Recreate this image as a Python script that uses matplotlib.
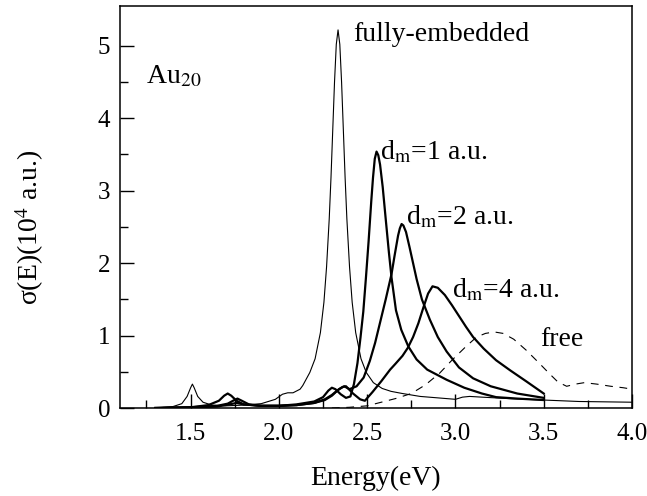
import numpy as np
import matplotlib
matplotlib.use("Agg")
import matplotlib.pyplot as plt

plt.rcParams['font.family'] = ['Liberation Serif', 'DejaVu Serif']
plt.rcParams['mathtext.fontset'] = 'stix'

# fully-embedded (thin line)
e_full = [1.30, 1.40, 1.45, 1.48, 1.50, 1.51, 1.52, 1.54, 1.57, 1.62, 1.70, 1.80, 1.90, 1.98, 2.02, 2.05,
          2.08, 2.12, 2.135, 2.175, 2.205, 2.235, 2.255, 2.27, 2.285, 2.295, 2.305, 2.315, 2.325, 2.335,
          2.345, 2.355, 2.365, 2.375, 2.385, 2.40, 2.415, 2.435, 2.465, 2.495, 2.535, 2.585, 2.635,
          2.70, 2.80, 2.90, 3.00, 3.04, 3.08, 3.15, 3.30, 3.50, 3.70, 4.00]
s_full = [0.0, 0.02, 0.06, 0.16, 0.28, 0.33, 0.28, 0.16, 0.08, 0.04, 0.03, 0.04, 0.06, 0.12, 0.19, 0.21,
          0.21, 0.26, 0.31, 0.49, 0.68, 1.04, 1.46, 1.95, 2.61, 3.18, 3.84, 4.5, 5.02, 5.22,
          5.02, 4.5, 3.84, 3.18, 2.61, 1.95, 1.46, 1.04, 0.68, 0.49, 0.35, 0.27, 0.23,
          0.20, 0.16, 0.14, 0.12, 0.15, 0.16, 0.15, 0.13, 0.11, 0.09, 0.08]

# d_m = 1 a.u.
e_d1 = [1.30, 1.50, 1.60, 1.66, 1.69, 1.71, 1.73, 1.76, 1.80, 1.90, 2.00, 2.10, 2.20, 2.25, 2.28, 2.30,
        2.32, 2.35, 2.38, 2.405, 2.425, 2.445, 2.462, 2.478, 2.493, 2.508, 2.523, 2.533, 2.543, 2.553,
        2.563, 2.573, 2.588, 2.603, 2.623, 2.638, 2.663, 2.693, 2.733, 2.78, 2.84, 2.95, 3.05, 3.15,
        3.23, 3.35, 3.50]
s_d1 = [0.0, 0.01, 0.04, 0.10, 0.17, 0.20, 0.17, 0.10, 0.05, 0.03, 0.03, 0.05, 0.09, 0.15, 0.24, 0.28,
        0.26, 0.19, 0.14, 0.16, 0.33, 0.62, 0.97, 1.33, 1.8, 2.3, 2.85, 3.18, 3.44, 3.54,
        3.49, 3.36, 3.05, 2.66, 2.15, 1.8, 1.35, 1.08, 0.85, 0.67, 0.53, 0.39, 0.28, 0.2,
        0.15, 0.13, 0.11]

# d_m = 2 a.u.
e_d2 = [1.30, 1.50, 1.65, 1.71, 1.74, 1.765, 1.79, 1.83, 1.90, 2.00, 2.10, 2.20, 2.26, 2.30, 2.34, 2.37,
        2.40, 2.44, 2.48, 2.515, 2.545, 2.575, 2.605, 2.638, 2.655, 2.675, 2.685, 2.695, 2.705, 2.72,
        2.74, 2.76, 2.78, 2.81, 2.855, 2.90, 2.95, 3.02, 3.10, 3.20, 3.35, 3.50]
s_d2 = [0.0, 0.01, 0.03, 0.06, 0.10, 0.13, 0.10, 0.05, 0.03, 0.03, 0.04, 0.07, 0.11, 0.17, 0.26, 0.30,
        0.26, 0.30, 0.42, 0.65, 0.9, 1.2, 1.5, 1.85, 2.1, 2.38, 2.48, 2.54, 2.52, 2.43,
        2.22, 2.0, 1.78, 1.5, 1.22, 0.98, 0.78, 0.56, 0.41, 0.30, 0.20, 0.14]

# d_m = 4 a.u.
e_d4 = [1.30, 1.50, 1.65, 1.72, 1.76, 1.80, 1.90, 2.00, 2.10, 2.20, 2.26, 2.30, 2.33, 2.36, 2.38, 2.42,
        2.46, 2.487, 2.53, 2.58, 2.63, 2.66, 2.70, 2.73, 2.76, 2.79, 2.82, 2.845, 2.87, 2.90, 2.94,
        2.98, 3.02, 3.06, 3.10, 3.16, 3.23, 3.31, 3.40, 3.50]
s_d4 = [0.0, 0.01, 0.02, 0.05, 0.07, 0.05, 0.03, 0.03, 0.04, 0.07, 0.12, 0.18, 0.24, 0.29, 0.30, 0.20,
        0.12, 0.10, 0.22, 0.37, 0.53, 0.61, 0.72, 0.83, 0.98, 1.17, 1.40, 1.58, 1.68, 1.66, 1.56,
        1.42, 1.27, 1.12, 0.98, 0.82, 0.66, 0.52, 0.37, 0.20]

# free cluster (dashed)
e_free = [2.30, 2.40, 2.50, 2.58, 2.66, 2.75, 2.83, 2.91, 2.98, 3.06, 3.12, 3.17, 3.22, 3.27, 3.33,
          3.40, 3.47, 3.53, 3.58, 3.63, 3.68, 3.73, 3.80, 3.88, 3.95, 4.00]
s_free = [0.0, 0.01, 0.03, 0.08, 0.13, 0.20, 0.32, 0.48, 0.66, 0.85, 0.98, 1.03, 1.05, 1.03, 0.95,
          0.80, 0.63, 0.48, 0.36, 0.30, 0.33, 0.35, 0.33, 0.30, 0.28, 0.26]

fig = plt.figure(figsize=(6.47, 4.96), dpi=100)
ax = fig.add_axes([0.1855, 0.1774, 0.7913, 0.8105])

ax.plot(e_full, s_full, color='black', lw=0.8)
ax.plot(e_d1, s_d1, color='black', lw=1.6)
ax.plot(e_d2, s_d2, color='black', lw=1.6)
ax.plot(e_d4, s_d4, color='black', lw=1.6)
ax.plot(e_free, s_free, color='black', lw=0.8, dashes=(7, 6))
ax.plot([1.1, 4.0], [0, 0], color='black', lw=0.8)

ax.set_xlim(1.1, 4.0)
ax.set_ylim(0, 5.55)
ax.set_xticks([1.5, 2.0, 2.5, 3.0, 3.5, 4.0])
ax.set_xticklabels(['1.5', '2.0', '2.5', '3.0', '3.5', '4.0'])
ax.set_xticks(np.arange(1.25, 4.0, 0.25), minor=True)
ax.set_yticks([0, 1, 2, 3, 4, 5])
ax.set_yticks(np.arange(0.5, 5.5, 1.0), minor=True)
ax.tick_params(which='both', direction='in', labelsize=18, width=1.0)
ax.tick_params(which='major', length=10)
ax.tick_params(axis='x', which='major', pad=11)
ax.tick_params(axis='y', which='major', pad=7)
ax.tick_params(which='minor', length=6)
for s in ax.spines.values():
    s.set_linewidth(1.1)

ax.set_xlabel('Energy(eV)', fontsize=20, labelpad=15)
ax.set_ylabel('σ(E)(10$^4$ a.u.)', fontsize=20)
ax.yaxis.set_label_coords(-0.145, 0.45)

ax.text(1.25, 4.58, r'Au$_{20}$', fontsize=20, va='center')
ax.text(2.42, 5.16, 'fully-embedded', fontsize=20, va='center')
ax.text(2.57, 3.53, r'd$_\mathrm{m}$=1 a.u.', fontsize=20, va='center')
ax.text(2.72, 2.63, r'd$_\mathrm{m}$=2 a.u.', fontsize=20, va='center')
ax.text(2.98, 1.63, r'd$_\mathrm{m}$=4 a.u.', fontsize=20, va='center')
ax.text(3.48, 0.94, 'free', fontsize=20, va='center')

plt.savefig('out.png', dpi=100)
